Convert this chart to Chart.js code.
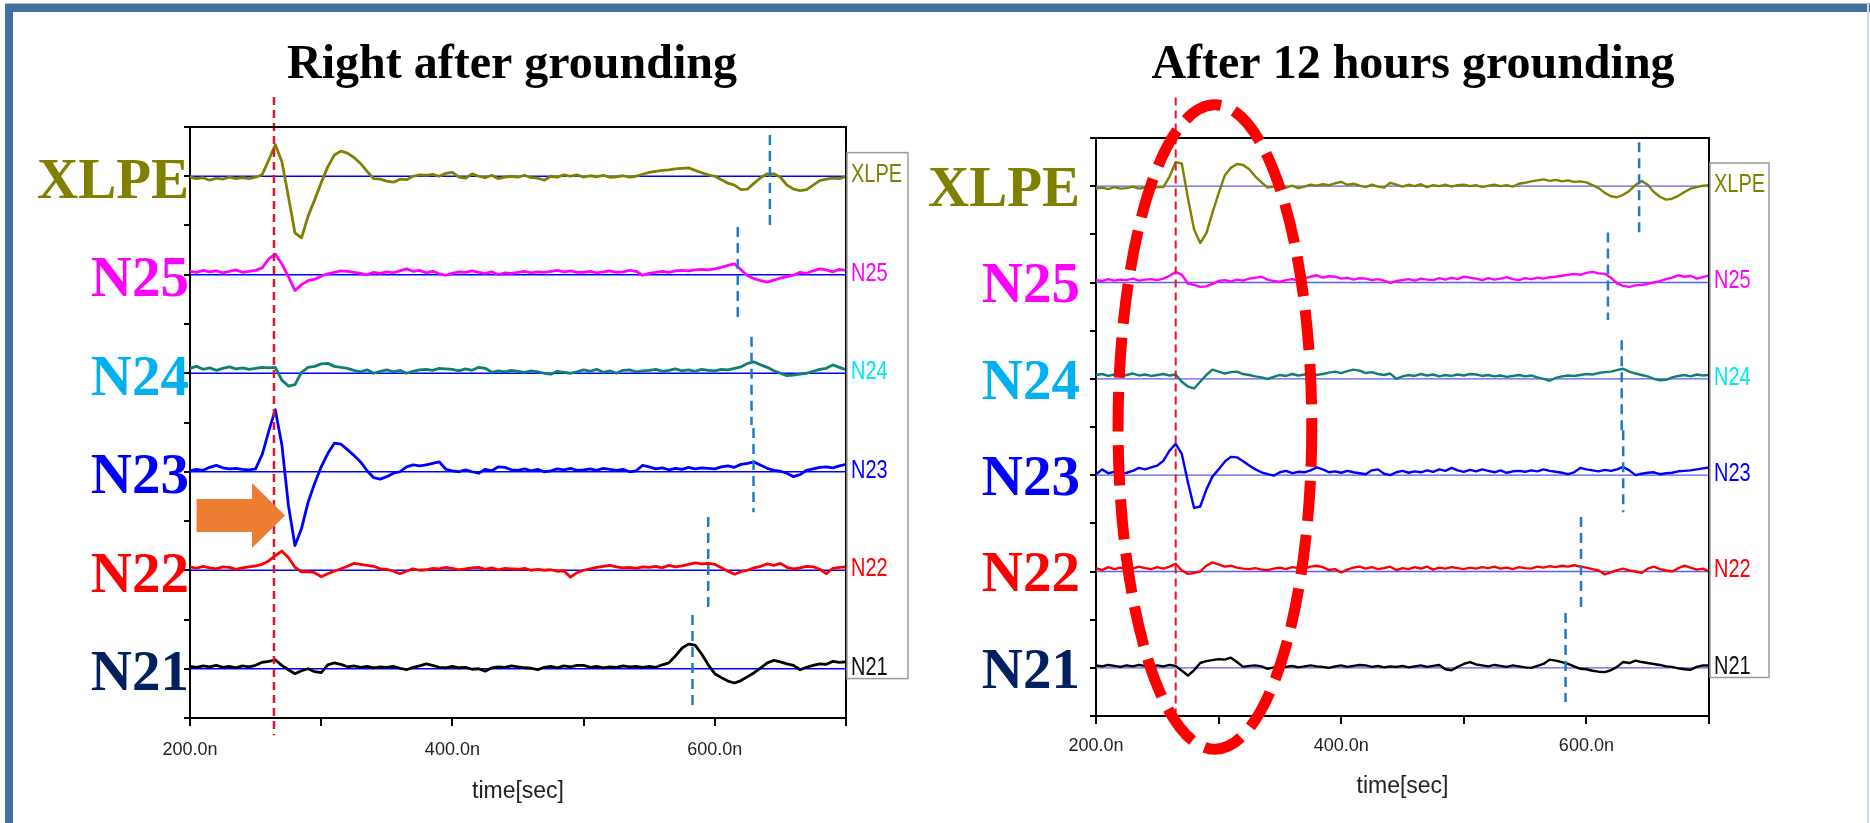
<!DOCTYPE html>
<html>
<head>
<meta charset="utf-8">
<title>Grounding waveforms</title>
<script src="https://cdn.jsdelivr.net/npm/chart.js@4.4.1/dist/chart.umd.min.js"></script>
<style>
  body { margin: 0; background: #fff; }
  #wrap { position: relative; width: 1870px; height: 823px; overflow: hidden; background: #fff; }
  #wrap canvas { position: absolute; left: 0; top: 0; }
  .edge { position: absolute; }
</style>
</head>
<body>
<div id="wrap">
  <div class="edge" style="left:5px;top:3px;width:1865px;height:1px;background:#a9bdd3"></div>
  <div class="edge" style="left:5px;top:4px;width:1865px;height:8px;background:#44709d"></div>
  <div class="edge" style="left:5px;top:4px;width:8px;height:819px;background:#44709d"></div>
  <div class="edge" style="left:1867px;top:4px;width:2px;height:819px;background:#d3dde9"></div>
  <canvas id="leftChart" width="1870" height="823"></canvas>
  <canvas id="rightChart" width="1870" height="823"></canvas>
</div>
<script>
// time grid (ns) shared by every trace
const times = [
  200, 205, 210, 215, 220, 225, 230, 235, 240, 245,
  250, 255, 260, 265, 270, 275, 280, 285, 290, 295,
  300, 305, 310, 315, 320, 325, 330, 335, 340, 345,
  350, 355, 360, 365, 370, 375, 380, 385, 390, 395,
  400, 405, 410, 415, 420, 425, 430, 435, 440, 445,
  450, 455, 460, 465, 470, 475, 480, 485, 490, 495,
  500, 505, 510, 515, 520, 525, 530, 535, 540, 545,
  550, 555, 560, 565, 570, 575, 580, 585, 590, 595,
  600, 605, 610, 615, 620, 625, 630, 635, 640, 645,
  650, 655, 660, 665, 670, 675, 680, 685, 690, 695,
  700
];

const traceNames = ['XLPE', 'N25', 'N24', 'N23', 'N22', 'N21'];
const traceLevels = [11, 9, 7, 5, 3, 1];
const traceColors = ['#808000', '#ff00ff', '#0f7f72', '#0000ff', '#ff0000', '#000000'];
const sideLabelColors = ['#808000', '#ff00ff', '#00e8ee', '#0000ff', '#ff0000', '#111111'];
const bigLabelColors = ['#808000', '#ff00ff', '#00b0f0', '#0000ff', '#ff0000', '#002060'];

const xTicks = [200, 300, 400, 500, 600, 700];
const xTickText = ['200.0n', '', '400.0n', '', '600.0n', ''];

const leftTitle = 'Right after grounding';
const rightTitle = 'After 12 hours grounding';

// signal offsets from each trace's level (1 unit = one channel half-spacing)
const leftXLPE = [
  -0.02, -0.05, -0.03, -0.08, -0.04, -0.06, -0.02, -0.05, -0.03, -0.05,
  -0.02, 0.03, 0.33, 0.64, 0.30, -0.41, -1.15, -1.25, -0.81, -0.48,
  -0.13, 0.19, 0.43, 0.51, 0.47, 0.38, 0.26, 0.10, -0.05, -0.06,
  -0.10, -0.12, -0.06, -0.07, 0.00, 0.03, 0.02, 0.04, 0.00, 0.06,
  0.08, -0.02, -0.04, 0.05, 0.00, -0.03, 0.02, -0.05, -0.02, 0.00,
  -0.02, 0.02, -0.03, -0.04, -0.08, 0.00, -0.02, 0.03, 0.00, 0.03,
  -0.02, 0.01, -0.01, 0.02, -0.02, -0.01, 0.01, -0.02, 0.00, 0.04,
  0.08, 0.10, 0.12, 0.13, 0.15, 0.16, 0.17, 0.12, 0.07, 0.03,
  0.00, -0.07, -0.14, -0.18, -0.27, -0.26, -0.14, -0.03, 0.05, 0.05,
  -0.02, -0.18, -0.26, -0.29, -0.27, -0.18, -0.09, -0.06, -0.04, -0.05,
  0.00
];
const leftN25 = [
  0.07, 0.05, 0.09, 0.06, 0.08, 0.04, 0.07, 0.10, 0.05, 0.07,
  0.09, 0.14, 0.32, 0.42, 0.22, -0.04, -0.32, -0.20, -0.12, -0.09,
  -0.03, 0.02, 0.05, 0.08, 0.07, 0.05, 0.03, 0.00, 0.05, 0.03,
  0.06, 0.04, 0.08, 0.12, 0.07, 0.09, 0.04, 0.07, 0.02, -0.01,
  0.03, 0.06, 0.05, 0.08, 0.05, 0.03, 0.06, 0.00, 0.04, 0.03,
  0.05, 0.07, 0.04, 0.06, 0.05, 0.07, 0.09, 0.06, 0.08, 0.05,
  0.05, 0.07, 0.04, 0.06, 0.08, 0.05, 0.06, 0.09, 0.07, -0.01,
  0.03, 0.05, 0.07, 0.05, 0.08, 0.09, 0.08, 0.10, 0.11, 0.10,
  0.12, 0.15, 0.19, 0.22, 0.10, -0.02, -0.08, -0.12, -0.15, -0.11,
  -0.07, -0.04, -0.01, 0.05, 0.03, 0.08, 0.12, 0.10, 0.06, 0.11,
  0.09
];
const leftN24 = [
  0.10, 0.14, 0.08, 0.11, 0.06, 0.10, 0.13, 0.09, 0.11, 0.08,
  0.10, 0.12, 0.11, 0.12, -0.14, -0.26, -0.23, 0.02, 0.12, 0.14,
  0.19, 0.20, 0.14, 0.12, 0.10, 0.06, 0.03, 0.07, 0.00, 0.04,
  0.07, 0.03, 0.06, 0.00, 0.04, 0.07, 0.08, 0.06, 0.10, 0.09,
  0.08, 0.05, 0.09, 0.06, 0.12, 0.10, 0.02, 0.05, 0.03, 0.06,
  0.04, 0.02, 0.05, 0.03, 0.00, -0.02, 0.04, 0.02, 0.00, 0.03,
  0.07, 0.04, 0.08, 0.02, 0.05, 0.00, 0.06, 0.07, 0.03, 0.05,
  0.06, 0.08, 0.04, 0.06, 0.09, 0.05, 0.07, 0.04, 0.08, 0.06,
  0.05, 0.08, 0.07, 0.10, 0.13, 0.20, 0.23, 0.17, 0.12, 0.05,
  0.00, -0.05, -0.04, -0.02, 0.00, 0.04, 0.08, 0.10, 0.17, 0.12,
  0.07
];
const leftN23 = [
  0.02, 0.05, 0.03, 0.09, 0.13, 0.08, 0.06, 0.07, 0.05, 0.04,
  0.06, 0.35, 0.82, 1.26, 0.55, -0.68, -1.50, -1.15, -0.62, -0.24,
  0.10, 0.37, 0.58, 0.56, 0.45, 0.33, 0.20, 0.02, -0.12, -0.15,
  -0.10, -0.03, 0.00, 0.10, 0.14, 0.12, 0.14, 0.17, 0.20, 0.05,
  0.02, 0.00, 0.04, 0.00, -0.03, 0.05, 0.02, 0.10, 0.09, 0.04,
  0.03, 0.06, 0.02, 0.05, 0.00, 0.02, 0.06, 0.04, 0.07, 0.03,
  0.04, 0.06, 0.03, 0.07, 0.05, 0.03, 0.05, 0.00, 0.02, 0.13,
  0.10, 0.06, 0.08, 0.04, 0.07, 0.05, 0.09, 0.06, 0.08, 0.07,
  0.06, 0.10, 0.12, 0.09, 0.15, 0.17, 0.20, 0.13, 0.07, 0.03,
  0.01, -0.03, -0.10, -0.06, 0.03, 0.06, 0.09, 0.10, 0.08, 0.12,
  0.15
];
const leftN22 = [
  0.07, 0.04, 0.08, 0.05, 0.03, 0.07, 0.06, 0.02, 0.05, 0.07,
  0.09, 0.12, 0.19, 0.30, 0.39, 0.26, 0.06, -0.03, -0.03, -0.05,
  -0.13, -0.07, -0.02, 0.03, 0.08, 0.14, 0.12, 0.10, 0.08, 0.03,
  0.02, -0.02, -0.07, -0.02, 0.03, 0.00, 0.01, 0.04, 0.03, 0.06,
  0.04, 0.01, 0.03, 0.05, 0.06, 0.02, 0.05, 0.01, 0.04, 0.03,
  0.02, 0.04, 0.00, 0.02, 0.00, 0.01, -0.02, -0.01, -0.14, -0.05,
  0.00, 0.03, 0.06, 0.08, 0.10, 0.07, 0.05, 0.06, 0.04, 0.07,
  0.06, 0.08, 0.05, 0.10, 0.07, 0.09, 0.12, 0.15, 0.13, 0.14,
  0.12, 0.05, -0.02, -0.08, -0.03, 0.00, 0.05, 0.08, 0.13, 0.10,
  0.14, 0.06, 0.03, 0.05, 0.08, 0.07, 0.02, -0.07, 0.04, 0.06,
  0.07
];
const leftN21 = [
  0.05, 0.03, 0.06, 0.04, 0.07, 0.03, 0.05, 0.02, 0.06, 0.04,
  0.07, 0.13, 0.15, 0.18, 0.07, -0.02, -0.10, -0.04, 0.00, -0.06,
  -0.08, 0.08, 0.12, 0.09, 0.04, 0.06, 0.03, 0.05, 0.02, 0.04,
  0.03, 0.05, 0.01, -0.02, 0.03, 0.06, 0.10, 0.07, 0.03, 0.02,
  0.05, 0.02, 0.03, -0.01, 0.00, -0.05, 0.02, 0.04, 0.03, 0.06,
  0.04, 0.02, 0.01, -0.02, 0.03, 0.05, 0.02, 0.06, 0.04, 0.07,
  0.07, 0.03, 0.05, 0.02, 0.04, 0.03, 0.06, 0.04, 0.05, 0.03,
  0.05, 0.03, 0.08, 0.12, 0.26, 0.42, 0.50, 0.48, 0.30, 0.08,
  -0.10, -0.18, -0.25, -0.29, -0.24, -0.16, -0.08, 0.02, 0.12, 0.17,
  0.14, 0.10, 0.07, -0.02, 0.03, 0.07, 0.10, 0.09, 0.15, 0.13,
  0.14
];

const rightXLPE = [
  -0.05, -0.03, -0.06, -0.02, -0.05, -0.04, -0.01, -0.05, -0.03, -0.06,
  -0.02, -0.02, 0.20, 0.50, 0.47, -0.25, -0.90, -1.18, -0.98, -0.55,
  -0.15, 0.22, 0.38, 0.46, 0.44, 0.35, 0.20, 0.08, -0.03, -0.01,
  0.02, -0.03, 0.01, -0.04, -0.01, 0.03, 0.01, 0.04, 0.02, 0.06,
  0.09, 0.03, 0.05, 0.01, -0.02, 0.03, -0.01, -0.03, 0.07, 0.03,
  -0.01, 0.03, 0.00, 0.04, -0.02, 0.02, 0.00, 0.03, -0.01, 0.02,
  0.03, 0.00, 0.02, -0.02, 0.01, 0.03, 0.00, 0.02, -0.01, 0.05,
  0.07, 0.10, 0.12, 0.14, 0.11, 0.13, 0.10, 0.12, 0.09, 0.10,
  0.08, 0.02, -0.04, -0.14, -0.21, -0.23, -0.18, -0.10, 0.02, 0.11,
  0.03, -0.12, -0.22, -0.28, -0.26, -0.20, -0.12, -0.05, -0.02, 0.01,
  0.02
];
const rightN25 = [
  0.05, 0.03, 0.07, 0.04, 0.06, 0.05, 0.08, 0.04, 0.06, 0.07,
  0.05, 0.08, 0.14, 0.22, 0.16, -0.02, -0.05, -0.09, -0.08, -0.03,
  0.03, 0.05, 0.02, 0.06, 0.04, 0.08, 0.10, 0.12, 0.06, 0.03,
  0.01, 0.05, 0.07, 0.04, 0.08, 0.12, 0.15, 0.10, 0.13, 0.12,
  0.08, 0.10, 0.06, 0.09, 0.08, 0.05, 0.07, 0.04, -0.01, 0.03,
  0.05, 0.07, 0.04, 0.08, 0.06, 0.05, 0.09, 0.06, 0.10, 0.07,
  0.12, 0.10, 0.08, 0.05, 0.09, 0.06, 0.08, 0.11, 0.07, 0.05,
  0.09, 0.07, 0.10, 0.08, 0.11, 0.12, 0.14, 0.16, 0.18, 0.16,
  0.20, 0.22, 0.19, 0.18, 0.10, -0.02, -0.07, -0.09, -0.06, -0.05,
  -0.03, 0.00, 0.03, 0.07, 0.10, 0.15, 0.12, 0.14, 0.08, 0.11,
  0.15
];
const rightN24 = [
  0.08, 0.10, 0.06, 0.09, 0.05, 0.08, 0.11, 0.07, 0.09, 0.06,
  0.08, 0.10, 0.07, 0.09, -0.06, -0.16, -0.20, -0.06, 0.08, 0.19,
  0.15, 0.11, 0.14, 0.15, 0.10, 0.08, 0.05, 0.03, 0.00, 0.04,
  0.08, 0.06, 0.10, 0.07, 0.09, 0.12, 0.08, 0.10, 0.13, 0.15,
  0.12, 0.16, 0.19, 0.17, 0.12, 0.14, 0.10, 0.08, 0.11, 0.00,
  0.05, 0.08, 0.06, 0.10, 0.07, 0.09, 0.05, 0.08, 0.06, 0.09,
  0.07, 0.10, 0.09, 0.06, 0.08, 0.05, 0.07, 0.04, 0.06, 0.08,
  0.05, 0.07, 0.03, 0.00, -0.04, 0.02, 0.05, 0.07, 0.06, 0.08,
  0.10, 0.09, 0.12, 0.14, 0.15, 0.18, 0.21, 0.15, 0.11, 0.08,
  0.05, 0.00, -0.03, -0.02, 0.03, 0.06, 0.08, 0.05, 0.09, 0.07,
  0.08
];
const rightN23 = [
  0.02, 0.12, 0.04, 0.07, 0.02, 0.05, 0.09, 0.15, 0.12, 0.16,
  0.20, 0.30, 0.51, 0.65, 0.44, -0.15, -0.68, -0.65, -0.30, -0.03,
  0.12, 0.28, 0.38, 0.37, 0.29, 0.20, 0.12, 0.06, 0.02, -0.01,
  0.06, 0.09, 0.04, 0.07, 0.06, 0.10, 0.16, 0.12, 0.06, 0.08,
  0.05, 0.09, 0.06, 0.04, 0.02, 0.10, 0.12, 0.03, 0.00, 0.06,
  0.09, 0.05, 0.08, 0.06, 0.10, 0.07, 0.12, 0.09, 0.15, 0.10,
  0.07, 0.11, 0.08, 0.12, 0.09, 0.06, 0.10, 0.05, 0.08, 0.09,
  0.07, 0.10, 0.08, 0.12, 0.09, 0.07, 0.05, 0.02, 0.06, 0.15,
  0.12, 0.10, 0.08, 0.11, 0.09, 0.12, 0.17, 0.10, 0.00, 0.03,
  0.05, 0.06, 0.02, 0.04, 0.05, 0.08, 0.09, 0.10, 0.12, 0.14,
  0.16
];
const rightN22 = [
  0.07, 0.03, 0.09, 0.05, 0.08, 0.04, 0.06, 0.10, 0.07, 0.05,
  0.09, 0.06, 0.10, 0.16, 0.02, -0.05, -0.03, 0.00, 0.12, 0.19,
  0.15, 0.10, 0.12, 0.08, 0.06, 0.05, 0.07, 0.04, 0.03, 0.06,
  0.08, 0.05, 0.09, 0.07, 0.06, 0.10, 0.12, 0.09, 0.03, 0.05,
  -0.02, 0.04, 0.08, 0.10, 0.06, 0.09, 0.05, 0.07, 0.10, 0.03,
  0.07, 0.05, 0.09, 0.06, 0.10, 0.04, 0.08, 0.06, 0.09, 0.07,
  0.05, 0.08, 0.06, 0.09, 0.07, 0.10, 0.06, 0.08, 0.05, 0.09,
  0.07, 0.06, 0.10, 0.08, 0.11, 0.09, 0.12, 0.10, 0.13, 0.10,
  0.08, 0.05, 0.02, -0.06, -0.02, 0.03, 0.06, 0.02, 0.00, -0.03,
  0.06, 0.10, 0.05, 0.02, 0.00, 0.07, 0.12, 0.08, 0.04, 0.06,
  0.00
];
const rightN21 = [
  0.05, 0.03, 0.06, 0.04, 0.02, 0.05, 0.03, 0.06, 0.04, 0.02,
  0.05, 0.03, 0.06, 0.04, -0.06, -0.16, -0.05, 0.10, 0.14, 0.16,
  0.18, 0.17, 0.21, 0.12, 0.02, 0.04, 0.05, 0.03, -0.02, 0.01,
  0.05, 0.02, 0.04, 0.01, 0.03, 0.05, 0.03, 0.02, 0.00, 0.03,
  0.05, 0.02, 0.04, 0.06, 0.05, 0.02, 0.04, 0.01, 0.03, 0.02,
  0.04, 0.01, 0.03, 0.05, 0.02, 0.04, 0.06, -0.03, -0.05, 0.02,
  0.08, 0.12, 0.07, 0.05, 0.03, 0.06, 0.04, 0.02, 0.05, 0.03,
  0.01, 0.00, 0.04, 0.08, 0.17, 0.15, 0.12, 0.08, 0.03, -0.02,
  -0.03, -0.06, -0.08, -0.09, -0.05, 0.02, 0.12, 0.10, 0.15, 0.12,
  0.10, 0.08, 0.06, 0.03, 0.02, -0.01, -0.03, -0.04, 0.02, 0.05,
  0.05
];

// first arrival (red dashed) : [time, top, bottom]
const leftStart = [264, 12.61, -0.35];
const rightStart = [265, 12.84, 0.08];
// reflection markers (blue dashed) : [time, top, bottom]
const leftMarks = [[642, 11.84, 10.01], [617.5, 9.97, 8.14], [628, 7.74, 5.95], [629.5, 5.89, 4.18], [595, 4.08, 2.19], [583, 2.09, 0.24]];
const rightMarks = [[643, 11.91, 10.04], [617.6, 10.04, 8.22], [628.8, 7.8, 5.93], [630, 5.93, 4.23], [595.6, 4.13, 2.26], [583, 2.14, 0.29]];

const leftSeries = [leftXLPE, leftN25, leftN24, leftN23, leftN22, leftN21];
const rightSeries = [rightXLPE, rightN25, rightN24, rightN23, rightN22, rightN21];

function buildDatasets(series, opt) {
  const sets = [];
  traceLevels.forEach((lvl) => {
    sets.push({
      data: [{ x: times[0], y: lvl }, { x: times[times.length - 1], y: lvl }],
      borderColor: opt.baseColor, borderWidth: 1.3, pointRadius: 0, order: 5
    });
  });
  series.forEach((vals, i) => {
    sets.push({
      data: times.map((t, k) => ({ x: t, y: traceLevels[i] + vals[k] })),
      borderColor: traceColors[i], borderWidth: opt.traceWidth, pointRadius: 0,
      borderJoinStyle: 'round', tension: 0, order: 2
    });
  });
  opt.marks.forEach(([t, a, b]) => {
    sets.push({
      data: [{ x: t, y: a }, { x: t, y: b }],
      borderColor: '#1f7cc4', borderWidth: 2.5, borderDash: [10, 6], pointRadius: 0, order: 0
    });
  });
  const [t0, a0, b0] = opt.start;
  sets.push({
    data: [{ x: t0, y: a0 }, { x: t0, y: b0 }],
    borderColor: '#e4132f', borderWidth: opt.startWidth, borderDash: [8, 5], pointRadius: 0,
    clip: false, order: 0
  });
  return sets;
}

function makeDecor(cfg) {
  return {
    id: 'decor',
    afterDatasetsDraw(chart) {
      if (!cfg.arrow) return;
      const { ctx, scales: { x, y } } = chart;
      const [tail, base, tip, mid, body, head] = cfg.arrow;
      ctx.save();
      ctx.fillStyle = '#ed7d31';
      ctx.beginPath();
      ctx.moveTo(x.getPixelForValue(tail), y.getPixelForValue(mid + body));
      ctx.lineTo(x.getPixelForValue(base), y.getPixelForValue(mid + body));
      ctx.lineTo(x.getPixelForValue(base), y.getPixelForValue(mid + head));
      ctx.lineTo(x.getPixelForValue(tip), y.getPixelForValue(mid));
      ctx.lineTo(x.getPixelForValue(base), y.getPixelForValue(mid - head));
      ctx.lineTo(x.getPixelForValue(base), y.getPixelForValue(mid - body));
      ctx.lineTo(x.getPixelForValue(tail), y.getPixelForValue(mid - body));
      ctx.closePath();
      ctx.fill();
      ctx.restore();
    },
    afterDraw(chart) {
      const { ctx, chartArea: a, scales: { x, y } } = chart;
      ctx.save();
      ctx.strokeStyle = '#000';
      ctx.lineWidth = 2;
      ctx.beginPath();
      ctx.moveTo(a.left, a.top);
      ctx.lineTo(a.right, a.top);
      ctx.lineTo(a.right, a.bottom);
      ctx.stroke();

      ctx.fillStyle = '#000';
      ctx.font = 'bold 48px "Liberation Serif", "Times New Roman", serif';
      ctx.textAlign = 'center';
      ctx.textBaseline = 'alphabetic';
      ctx.fillText(cfg.title, cfg.titleX, 78);

      const bt = y.getPixelForValue(11.48);
      const bb = y.getPixelForValue(0.8);
      ctx.strokeStyle = '#9a9a9a';
      ctx.lineWidth = 1.5;
      ctx.strokeRect(a.right + 1, bt, cfg.boxW, bb - bt);
      ctx.font = '25px "Liberation Sans", Arial, sans-serif';
      ctx.textAlign = 'left';
      ctx.textBaseline = 'middle';
      traceNames.forEach((name, i) => {
        ctx.save();
        ctx.translate(a.right + 5, y.getPixelForValue(traceLevels[i]) - 1);
        ctx.scale(0.8, 1);
        ctx.fillStyle = sideLabelColors[i];
        ctx.fillText(name, 0, 0);
        ctx.restore();
      });

      if (cfg.ellipse) {
        const [ct, cv, rt, rv] = cfg.ellipse;
        const cx = x.getPixelForValue(ct);
        const cy = y.getPixelForValue(cv);
        const rx = x.getPixelForValue(ct + rt) - cx;
        const ry = cy - y.getPixelForValue(cv + rv);
        ctx.strokeStyle = '#ff0000';
        ctx.lineWidth = 11;
        ctx.setLineDash([40, 14]);
        ctx.beginPath();
        ctx.ellipse(cx, cy, rx, ry, 0, 0, Math.PI * 2);
        ctx.stroke();
      }
      ctx.restore();
    }
  };
}

function makeChart(id, series, cfg) {
  return new Chart(document.getElementById(id), {
    type: 'line',
    data: { datasets: buildDatasets(series, cfg) },
    options: {
      responsive: false,
      animation: false,
      layout: { padding: cfg.padding },
      plugins: { legend: { display: false }, tooltip: { enabled: false } },
      scales: {
        x: {
          type: 'linear', min: 200, max: 700,
          afterFit: (s) => { s.height = cfg.xHeight; },
          border: { display: true, color: '#000', width: 2 },
          grid: { display: true, drawOnChartArea: false, drawTicks: true, tickLength: 8, color: '#000', lineWidth: 2 },
          ticks: {
            stepSize: 100, autoSkip: false, maxRotation: 0, padding: cfg.xTickPad,
            color: '#222', font: { family: '"Liberation Sans", Arial, sans-serif', size: 18 },
            callback: (v) => { const k = xTicks.indexOf(v); return k >= 0 ? xTickText[k] : ''; }
          },
          title: {
            display: true, text: 'time[sec]', color: '#222', padding: { top: 0, bottom: 0 },
            font: { family: '"Liberation Sans", Arial, sans-serif', size: 23 }
          }
        },
        y: {
          type: 'linear', min: 0, max: 12,
          afterFit: (s) => { s.width = cfg.yWidth; },
          border: { display: true, color: '#000', width: 2 },
          grid: { display: true, drawOnChartArea: false, drawTicks: true, tickLength: 6, color: '#000', lineWidth: 2 },
          ticks: {
            stepSize: 1, autoSkip: false, padding: cfg.yTickPad, labelOffset: cfg.yLabelShift,
            font: { family: '"Liberation Serif", "Times New Roman", serif', size: 57, weight: 'bold' },
            color: (c) => { const k = traceLevels.indexOf(c.tick.value); return k >= 0 ? bigLabelColors[k] : '#000'; },
            callback: (v) => { const k = traceLevels.indexOf(v); return k >= 0 ? traceNames[k] : ''; }
          }
        }
      }
    },
    plugins: [makeDecor(cfg)]
  });
}

makeChart('leftChart', leftSeries, {
  padding: { left: 15, top: 127, right: 1024, bottom: 18 },
  yWidth: 175, yLabelShift: 7,
  xHeight: 87, xTickPad: 13, yTickPad: -5,
  baseColor: '#0000ff', traceWidth: 2.8, startWidth: 2.5,
  marks: leftMarks, start: leftStart,
  title: leftTitle, titleX: 512, boxW: 61,
  arrow: [205, 247.3, 272.5, 4.11, 0.335, 0.66]
});

makeChart('rightChart', rightSeries, {
  padding: { left: 911, top: 138, right: 161, bottom: 23 },
  yWidth: 185, yLabelShift: 5,
  xHeight: 84, xTickPad: 11, yTickPad: 10,
  baseColor: '#5c5cf0', traceWidth: 2.4, startWidth: 2,
  marks: rightMarks, start: rightStart,
  title: rightTitle, titleX: 1413, boxW: 59,
  ellipse: [297, 6.0, 79, 6.69]
});
</script>
</body>
</html>
